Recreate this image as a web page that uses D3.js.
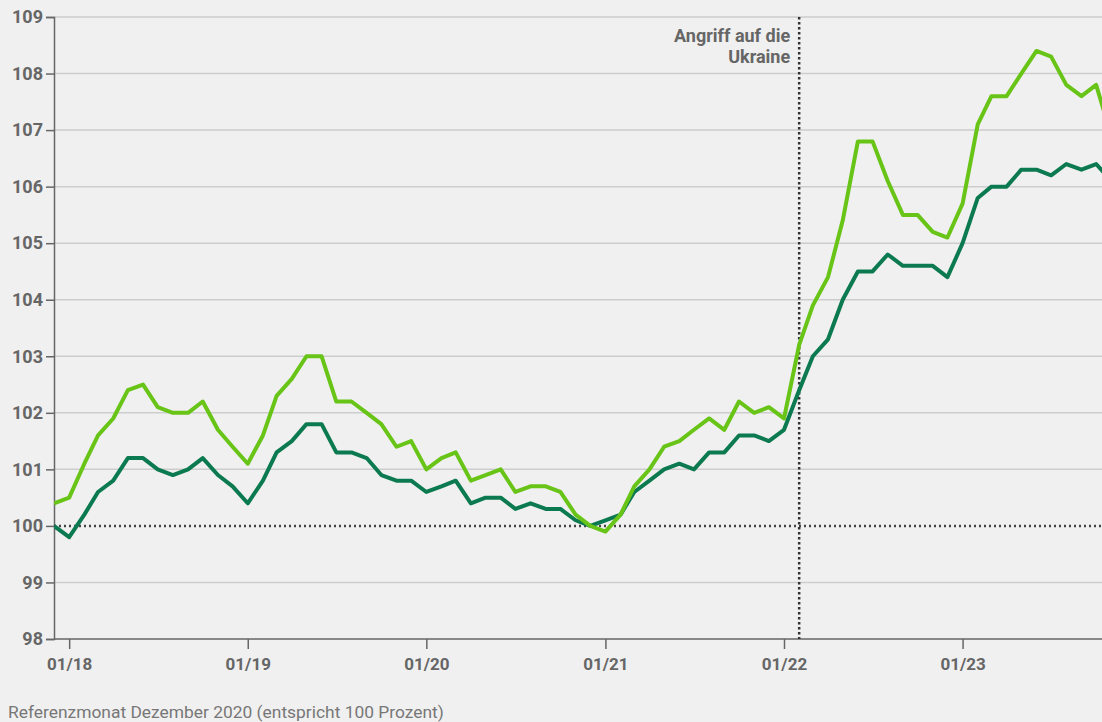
<!DOCTYPE html>
<html><head><meta charset="utf-8">
<script src="https://cdn.jsdelivr.net/npm/d3@7"></script>
<style>
html,body{margin:0;padding:0;background:#f0f0f0;overflow:hidden}
svg{display:block;font-family:Roboto,"Noto Sans",sans-serif}
</style></head>
<body>
<script>
// Months Dec 2017 .. Nov 2023
const startMonth = "2017-12";
const seriesLight = [100.4,100.5,101.1,101.6,101.9,102.4,102.5,102.1,102.0,102.0,102.2,101.7,
  101.4,101.1,101.6,102.3,102.6,103.0,103.0,102.2,102.2,102.0,101.8,101.4,
  101.5,101.0,101.2,101.3,100.8,100.9,101.0,100.6,100.7,100.7,100.6,100.2,
  100.0,99.9,100.2,100.7,101.0,101.4,101.5,101.7,101.9,101.7,102.2,102.0,
  102.1,101.9,103.2,103.9,104.4,105.4,106.8,106.8,106.1,105.5,105.5,105.2,
  105.1,105.7,107.1,107.6,107.6,108.0,108.4,108.3,107.8,107.6,107.8,106.9];
const seriesDark = [100.0,99.8,100.2,100.6,100.8,101.2,101.2,101.0,100.9,101.0,101.2,100.9,
  100.7,100.4,100.8,101.3,101.5,101.8,101.8,101.3,101.3,101.2,100.9,100.8,
  100.8,100.6,100.7,100.8,100.4,100.5,100.5,100.3,100.4,100.3,100.3,100.1,
  100.0,100.1,100.2,100.6,100.8,101.0,101.1,101.0,101.3,101.3,101.6,101.6,
  101.5,101.7,102.4,103.0,103.3,104.0,104.5,104.5,104.8,104.6,104.6,104.6,
  104.4,105.0,105.8,106.0,106.0,106.3,106.3,106.2,106.4,106.3,106.4,106.1];
const yTicks = [98,99,100,101,102,103,104,105,106,107,108,109];
const xTickYears = [2018,2019,2020,2021,2022,2023];
const eventDate = "2022-02";
const eventLabel = ["Angriff auf die","Ukraine"];
const footnote = "Referenzmonat Dezember 2020 (entspricht 100 Prozent)";

const W = 1102, H = 722;
const parse = d3.timeParse("%Y-%m");
const t0 = parse(startMonth);
const dates = seriesLight.map((_, i) => d3.timeMonth.offset(t0, i));

const x = d3.scaleTime().domain([t0, parse("2023-12")]).range([54, 1126]);
const y = d3.scaleLinear().domain([98, 109]).range([639, 17]);

const svg = d3.select("body").append("svg").attr("width", W).attr("height", H);
svg.append("rect").attr("width", W).attr("height", H).attr("fill", "#f0f0f0");

// gridlines
svg.append("g").selectAll("line").data(yTicks.filter(v => v !== 98 && v !== 100)).join("line")
  .attr("x1", 54).attr("x2", W).attr("y1", d => y(d)).attr("y2", d => y(d))
  .attr("stroke", "#cdcdcd").attr("stroke-width", 1.5);

// y axis
const yAxis = svg.append("g").attr("transform", "translate(54,0)")
  .call(d3.axisLeft(y).tickValues(yTicks).tickSize(8).tickPadding(3).tickFormat(d3.format("d")));
yAxis.select(".domain").attr("stroke", "#666").attr("stroke-width", 1.5);
yAxis.selectAll(".tick line").attr("stroke", "#666").attr("stroke-width", 1.5);
yAxis.selectAll("text").attr("fill", "#666").attr("font-size", 18).attr("font-weight", 700)
  .attr("font-family", "Roboto");

// x axis
const xAxis = svg.append("g").attr("transform", "translate(0,639)")
  .call(d3.axisBottom(x).tickValues(xTickYears.map(yr => new Date(yr, 0, 1)))
    .tickSize(10).tickPadding(9).tickFormat(d3.timeFormat("%m/%y")));
xAxis.select(".domain").attr("stroke", "#666").attr("stroke-width", 1.5).attr("d", `M54,0H${W}`);
xAxis.selectAll(".tick line").attr("stroke", "#666").attr("stroke-width", 1.5);
xAxis.selectAll("text").attr("fill", "#666").attr("font-size", 17).attr("font-weight", 700)
  .attr("font-family", "Roboto");

// clip
svg.append("clipPath").attr("id", "clip").append("rect")
  .attr("x", 54).attr("y", 0).attr("width", W - 54).attr("height", 640);

// reference line 100
svg.append("line").attr("x1", 54).attr("x2", W).attr("y1", y(100)).attr("y2", y(100))
  .attr("stroke", "#444").attr("stroke-width", 2.5).attr("stroke-dasharray", "2,3");

// event line
const ex = x(parse(eventDate));
svg.append("line").attr("x1", ex).attr("x2", ex).attr("y1", y(109)).attr("y2", y(98))
  .attr("stroke", "#333").attr("stroke-width", 2.5).attr("stroke-dasharray", "2.5,2.5");
svg.append("text").attr("x", ex - 9).attr("y", 42).attr("text-anchor", "end")
  .attr("fill", "#666").attr("font-size", 18).attr("font-weight", 700).attr("font-family", "Roboto")
  .selectAll("tspan").data(eventLabel).join("tspan")
  .attr("x", ex - 9).attr("dy", (d, i) => i === 0 ? 0 : 21).text(d => d);

const line = d3.line().x((d, i) => x(dates[i])).y(d => y(d));
const g = svg.append("g").attr("clip-path", "url(#clip)");
g.append("path").datum(seriesDark).attr("d", line).attr("fill", "none")
  .attr("stroke", "#0c7a50").attr("stroke-width", 4).attr("stroke-linejoin", "round");
g.append("path").datum(seriesLight).attr("d", line).attr("fill", "none")
  .attr("stroke", "#68c416").attr("stroke-width", 4).attr("stroke-linejoin", "round");

svg.append("text").attr("x", 8).attr("y", 718).attr("fill", "#777").attr("font-size", 17.4)
  .attr("font-family", "Roboto").text(footnote);
</script>
</body></html>
